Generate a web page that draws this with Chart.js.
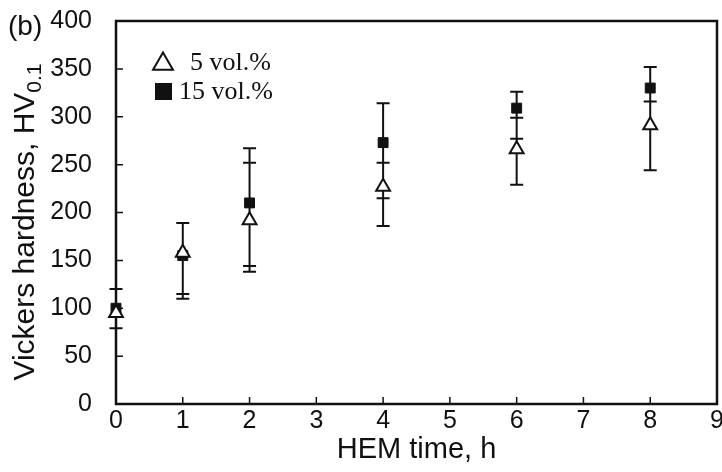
<!DOCTYPE html>
<html lang="en">
<head>
    <meta charset="UTF-8">
    <title>Vickers hardness vs HEM time</title>
    <script src="https://cdn.jsdelivr.net/npm/chart.js"></script>
    <style>
        html, body {
            margin: 0;
            padding: 0;
            background: #fff;
        }
        .wrap {
            width: 722px;
            height: 472px;
        }
    </style>
</head>
<body>
    <div class="wrap">
        <canvas id="chart" width="722" height="472"></canvas>
    </div>

    <script>
        // HEM time, h
        const hours = [0, 1, 2, 4, 6, 8];

        // 5 vol.% (open triangles)
        const hv5 = [95, 158, 192, 227, 266, 291];
        const hv5Low = [79, 110, 138, 186, 229, 244];
        const hv5High = [120, 189, 252, 252, 299, 316];

        // 15 vol.% (filled squares)
        const hv15 = [100, 155, 210, 273, 309, 330];
        const hv15Low = [79, 115, 144, 215, 277, 316];
        const hv15High = [120, 189, 267, 314, 326, 352];

        const xTicks = [0, 1, 2, 3, 4, 5, 6, 7, 8, 9];
        const yTicks = [0, 50, 100, 150, 200, 250, 300, 350, 400];

        const seriesNames = ['5 vol.%', '15 vol.%'];

        const ink = '#111';
        const sans = "'Liberation Sans', Arial, sans-serif";
        const serif = "'Liberation Serif', 'Times New Roman', serif";

        function points(vals, lo, hi) {
            return hours.map((h, i) => ({ x: h, y: vals[i], yMin: lo[i], yMax: hi[i] }));
        }

        function triangle(ctx, cx, cy, r) {
            ctx.beginPath();
            ctx.moveTo(cx, cy - r);
            ctx.lineTo(cx + r * Math.sin(Math.PI / 3), cy + r / 2);
            ctx.lineTo(cx - r * Math.sin(Math.PI / 3), cy + r / 2);
            ctx.closePath();
        }

        // frame, inward ticks, error bars, titles and the legend
        const decorations = {
            id: 'decorations',
            beforeDatasetsDraw(chart) {
                const { ctx, chartArea: a, scales: { x, y } } = chart;
                ctx.save();
                ctx.strokeStyle = ink;
                ctx.lineWidth = 2.5;
                ctx.strokeRect(a.left, a.top, a.right - a.left, a.bottom - a.top);

                ctx.lineWidth = 1.5;
                ctx.beginPath();
                yTicks.forEach(v => {
                    const py = y.getPixelForValue(v);
                    ctx.moveTo(a.left, py);
                    ctx.lineTo(a.left + 7, py);
                });
                xTicks.forEach(v => {
                    const px = x.getPixelForValue(v);
                    ctx.moveTo(px, a.bottom);
                    ctx.lineTo(px, a.bottom - 7);
                });
                ctx.stroke();

                ctx.lineWidth = 2;
                ctx.beginPath();
                chart.data.datasets.forEach(ds => {
                    ds.data.forEach(p => {
                        const px = x.getPixelForValue(p.x);
                        const lo = y.getPixelForValue(p.yMin);
                        const hi = y.getPixelForValue(p.yMax);
                        ctx.moveTo(px, lo);
                        ctx.lineTo(px, hi);
                        ctx.moveTo(px - 6.5, lo);
                        ctx.lineTo(px + 6.5, lo);
                        ctx.moveTo(px - 6.5, hi);
                        ctx.lineTo(px + 6.5, hi);
                    });
                });
                ctx.stroke();
                ctx.restore();
            },
            afterDraw(chart) {
                const { ctx } = chart;
                ctx.save();
                ctx.fillStyle = ink;

                // panel tag
                ctx.font = '28px ' + sans;
                ctx.textAlign = 'left';
                ctx.textBaseline = 'middle';
                ctx.fillText('(b)', 8, 27);

                // y title with subscript
                const main = 'Vickers hardness, HV';
                const sub = '0.1';
                ctx.font = '30px ' + sans;
                const wMain = ctx.measureText(main).width;
                ctx.font = '21px ' + sans;
                const wSub = ctx.measureText(sub).width;
                const total = wMain + wSub;
                ctx.translate(34, 222);
                ctx.rotate(-Math.PI / 2);
                ctx.textBaseline = 'alphabetic';
                ctx.font = '30px ' + sans;
                ctx.fillText(main, -total / 2, 0);
                ctx.font = '21px ' + sans;
                ctx.fillText(sub, -total / 2 + wMain, 7);
                ctx.setTransform(1, 0, 0, 1, 0, 0);

                // legend
                ctx.strokeStyle = ink;
                ctx.lineWidth = 2;
                ctx.fillStyle = '#fff';
                triangle(ctx, 163, 64, 11.5);
                ctx.fill();
                ctx.stroke();
                ctx.fillStyle = ink;
                ctx.fillRect(155, 83, 17, 17);

                ctx.font = '26px ' + serif;
                ctx.textBaseline = 'middle';
                ctx.fillText(seriesNames[0], 190, 63);
                ctx.fillText(seriesNames[1], 179, 92);
                ctx.restore();
            }
        };

        const ctx = document.getElementById('chart').getContext('2d');
        const chart = new Chart(ctx, {
            type: 'scatter',
            data: {
                datasets: [
                    {
                        label: seriesNames[0],
                        data: points(hv5, hv5Low, hv5High),
                        pointStyle: 'triangle',
                        pointRadius: 8,
                        pointBackgroundColor: '#fff',
                        pointBorderColor: ink,
                        pointBorderWidth: 2,
                        clip: false
                    },
                    {
                        label: seriesNames[1],
                        data: points(hv15, hv15Low, hv15High),
                        pointStyle: 'rect',
                        pointRadius: 7,
                        pointBackgroundColor: ink,
                        pointBorderColor: ink,
                        pointBorderWidth: 1,
                        clip: false
                    }
                ]
            },
            options: {
                responsive: false,
                animation: false,
                layout: {
                    autoPadding: false,
                    padding: { top: 21, right: 5, left: 0, bottom: 0 }
                },
                plugins: {
                    legend: { display: false },
                    tooltip: { enabled: false }
                },
                scales: {
                    x: {
                        type: 'linear',
                        min: 0,
                        max: 9,
                        afterBuildTicks: s => { s.ticks = xTicks.map(v => ({ value: v })); },
                        afterFit: s => {
                            s.height = 68;
                            s.paddingLeft = 0;
                            s.paddingRight = 0;
                        },
                        grid: { display: false },
                        border: { display: false },
                        ticks: {
                            color: ink,
                            font: { family: sans, size: 25 },
                            padding: -6,
                            maxRotation: 0
                        },
                        title: {
                            display: true,
                            text: 'HEM time, h',
                            color: ink,
                            font: { family: sans, size: 29 },
                            padding: { top: 0, bottom: 5 }
                        }
                    },
                    y: {
                        type: 'linear',
                        min: 0,
                        max: 400,
                        afterBuildTicks: s => { s.ticks = yTicks.map(v => ({ value: v })); },
                        afterFit: s => {
                            s.width = 116;
                            s.paddingTop = 0;
                            s.paddingBottom = 0;
                        },
                        grid: { display: false },
                        border: { display: false },
                        ticks: {
                            color: ink,
                            font: { family: sans, size: 25 },
                            padding: 16
                        }
                    }
                }
            },
            plugins: [decorations]
        });
    </script>
</body>
</html>
